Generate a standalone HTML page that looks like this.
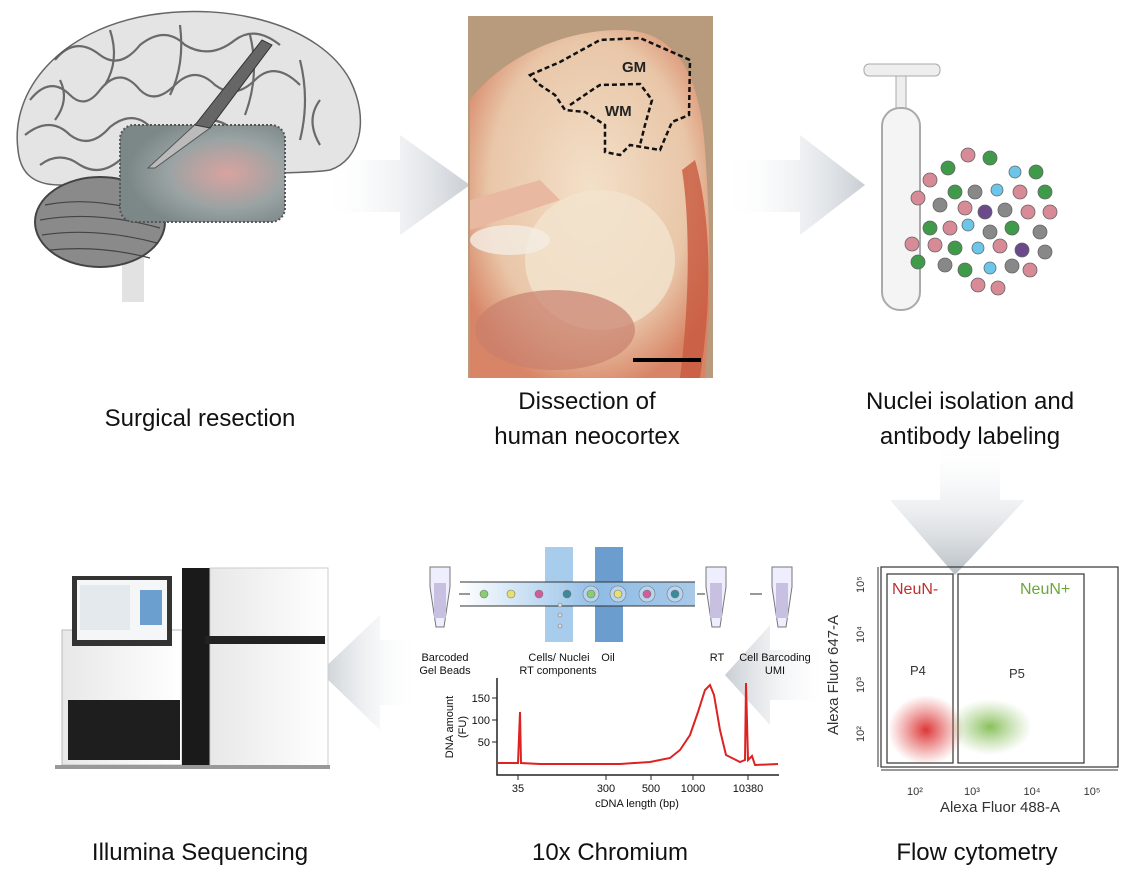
<!DOCTYPE html>
<html><head><meta charset="utf-8"><style>
body{margin:0;background:#fff;width:1130px;height:868px;overflow:hidden;font-family:"Liberation Sans",Arial,sans-serif}
</style></head><body>
<svg width="1130" height="868" viewBox="0 0 1130 868" xmlns="http://www.w3.org/2000/svg" font-family="Liberation Sans, Arial, sans-serif">
<defs>
<linearGradient id="arr" x1="0" x2="1"><stop offset="0" stop-color="#fff" stop-opacity="0"/><stop offset="1" stop-color="#c8ced4"/></linearGradient>
<linearGradient id="arrL" x1="1" x2="0"><stop offset="0" stop-color="#fff" stop-opacity="0"/><stop offset="1" stop-color="#c8ced4"/></linearGradient>
<linearGradient id="arrD" x1="0" y1="0" x2="0" y2="1"><stop offset="0" stop-color="#fff" stop-opacity="0"/><stop offset="1" stop-color="#b8bfc6"/></linearGradient>
<radialGradient id="tis" cx="0.5" cy="0.45" r="0.6"><stop offset="0" stop-color="#f3e0c8"/><stop offset="0.7" stop-color="#e9c6a8"/><stop offset="1" stop-color="#d88466"/></radialGradient>
<radialGradient id="pink" cx="0.65" cy="0.5" r="0.6"><stop offset="0" stop-color="#d9a3a0"/><stop offset="0.6" stop-color="#9aa3a3"/><stop offset="1" stop-color="#7c8888"/></radialGradient>
<linearGradient id="chan" x1="0" x2="1"><stop offset="0" stop-color="#fff"/><stop offset="0.6" stop-color="#8fbde6"/><stop offset="1" stop-color="#a9c9e8"/></linearGradient>
<radialGradient id="rc"><stop offset="0" stop-color="#d92020" stop-opacity="0.9"/><stop offset="1" stop-color="#e04040" stop-opacity="0"/></radialGradient>
<radialGradient id="gc"><stop offset="0" stop-color="#6bb033" stop-opacity="0.8"/><stop offset="1" stop-color="#8cc060" stop-opacity="0"/></radialGradient>
<linearGradient id="seq" x1="0" x2="1"><stop offset="0" stop-color="#e8e8e8"/><stop offset="1" stop-color="#ffffff"/></linearGradient>
</defs>

<!-- arrows -->
<polygon points="320,160 400,160 400,135 470,185 400,235 400,212 320,212" fill="url(#arr)"/>
<polygon points="722,160 800,160 800,135 865,185 800,235 800,212 722,212" fill="url(#arr)"/>
<polygon points="940,440 1000,440 1000,500 1025,500 955,575 890,500 940,500" fill="url(#arrD)"/>
<polygon points="830,650 770,650 770,625 725,675 770,725 770,700 830,700" fill="url(#arrL)"/>
<polygon points="420,640 380,640 380,615 320,672 380,730 380,705 420,705" fill="url(#arrL)"/>

<!-- brain -->
<g>
<rect x="122" y="220" width="22" height="82" fill="#e2e2e2"/>
<path d="M18,150 C10,90 60,30 150,15 C230,2 320,25 350,80 C370,120 360,160 330,170 C300,175 250,170 200,180 C150,190 120,185 60,185 C30,185 20,170 18,150 Z" fill="#e4e4e4" stroke="#666" stroke-width="1.5"/>
<g stroke="#555" stroke-width="2.2" fill="none" opacity="0.85">
<path d="M30,100 q20,-25 40,-5 q15,15 30,-5 q20,-25 40,0 q15,15 35,-5 q20,-20 40,0 q20,15 40,-5 q20,-20 45,5"/>
<path d="M25,135 q25,-20 45,0 q20,15 40,-8 q25,-20 45,5 q20,15 40,-5 q20,-15 40,5"/>
<path d="M55,60 q20,-25 45,-5 q20,15 40,-10 q25,-20 45,0 q25,15 50,-5 q20,-15 45,5"/>
<path d="M40,165 q20,-15 40,0 q20,12 40,-5"/>
<path d="M110,30 q10,30 -5,55"/><path d="M180,25 q5,40 -10,70"/><path d="M250,35 q10,40 -5,80"/><path d="M300,60 q10,40 0,80"/>
<path d="M60,80 q10,20 -5,40"/><path d="M320,100 q-15,20 0,45"/>
</g>
<ellipse cx="100" cy="222" rx="65" ry="45" fill="#8a8a8a" stroke="#444" stroke-width="2"/>
<g stroke="#444" stroke-width="1.2" fill="none">
<path d="M45,205 q50,-10 110,10"/><path d="M40,220 q55,-10 120,8"/><path d="M42,235 q55,-8 115,8"/><path d="M50,250 q50,-5 100,8"/>
</g>
<rect x="120" y="125" width="165" height="97" rx="14" fill="url(#pink)" stroke="#555" stroke-width="2" stroke-dasharray="2,2"/>
<polygon points="148,168 200,120 210,128 155,168" fill="#bbb" stroke="#555"/>
<polygon points="195,125 262,40 272,45 210,128" fill="#666" stroke="#333"/>
</g>

<!-- tissue photo -->
<rect x="468" y="16" width="245" height="362" fill="#b89b7d"/>
<path d="M470,100 C500,60 560,30 620,30 C680,30 700,80 705,150 C710,220 712,300 705,378 L470,378 Z" fill="url(#tis)"/>
<path d="M470,200 L540,180 L560,200 L470,230 Z" fill="#e9b8a0"/>
<ellipse cx="600" cy="260" rx="75" ry="70" fill="#f2e4ce" opacity="0.8"/>
<ellipse cx="555" cy="330" rx="80" ry="40" fill="#c9806e" opacity="0.7"/>
<ellipse cx="510" cy="240" rx="40" ry="15" fill="#f4ece4" opacity="0.8"/>
<path d="M695,160 C712,220 712,300 700,378 L680,378 C690,300 690,220 682,170 Z" fill="#c85a40" opacity="0.8"/>
<path d="M530,75 L560,62 L600,40 L640,38 L690,60 L689,115 L672,122 L660,150 L630,145 L620,155 L605,152 L605,125 L585,112 L565,110 L555,95 L540,85 Z" fill="none" stroke="#111" stroke-width="2.5" stroke-dasharray="5,3"/>
<path d="M570,105 L595,88 L600,85 L640,84 L652,100 L645,125 L640,145" fill="none" stroke="#111" stroke-width="2.5" stroke-dasharray="5,3"/>
<text x="622" y="72" font-size="15" font-weight="bold" fill="#222">GM</text>
<text x="605" y="116" font-size="15" font-weight="bold" fill="#222">WM</text>
<rect x="633" y="358" width="68" height="4" fill="#000"/>

<!-- column -->
<rect x="864" y="64" width="76" height="12" rx="5" fill="#eee" stroke="#aaa"/>
<rect x="896" y="76" width="10" height="40" fill="#eee" stroke="#aaa"/>
<rect x="882" y="108" width="38" height="202" rx="18" fill="#f4f4f4" stroke="#aaa" stroke-width="2"/>
<g stroke="#666" stroke-width="0.8">
<circle cx="968" cy="155" r="7" fill="#d88a96"/><circle cx="990" cy="158" r="7" fill="#3f9a4a"/><circle cx="948" cy="168" r="7" fill="#3f9a4a"/><circle cx="1015" cy="172" r="6" fill="#6cc6ea"/><circle cx="1036" cy="172" r="7" fill="#3f9a4a"/><circle cx="930" cy="180" r="7" fill="#d88a96"/><circle cx="955" cy="192" r="7" fill="#3f9a4a"/><circle cx="975" cy="192" r="7" fill="#888"/><circle cx="997" cy="190" r="6" fill="#6cc6ea"/><circle cx="1020" cy="192" r="7" fill="#d88a96"/><circle cx="1045" cy="192" r="7" fill="#3f9a4a"/><circle cx="918" cy="198" r="7" fill="#d88a96"/><circle cx="940" cy="205" r="7" fill="#888"/><circle cx="965" cy="208" r="7" fill="#d88a96"/><circle cx="985" cy="212" r="7" fill="#6a4a8a"/><circle cx="1005" cy="210" r="7" fill="#888"/><circle cx="1028" cy="212" r="7" fill="#d88a96"/><circle cx="1050" cy="212" r="7" fill="#d88a96"/><circle cx="930" cy="228" r="7" fill="#3f9a4a"/><circle cx="950" cy="228" r="7" fill="#d88a96"/><circle cx="968" cy="225" r="6" fill="#6cc6ea"/><circle cx="990" cy="232" r="7" fill="#888"/><circle cx="1012" cy="228" r="7" fill="#3f9a4a"/><circle cx="1040" cy="232" r="7" fill="#888"/><circle cx="912" cy="244" r="7" fill="#d88a96"/><circle cx="935" cy="245" r="7" fill="#d88a96"/><circle cx="955" cy="248" r="7" fill="#3f9a4a"/><circle cx="978" cy="248" r="6" fill="#6cc6ea"/><circle cx="1000" cy="246" r="7" fill="#d88a96"/><circle cx="1022" cy="250" r="7" fill="#6a4a8a"/><circle cx="1045" cy="252" r="7" fill="#888"/><circle cx="918" cy="262" r="7" fill="#3f9a4a"/><circle cx="945" cy="265" r="7" fill="#888"/><circle cx="965" cy="270" r="7" fill="#3f9a4a"/><circle cx="990" cy="268" r="6" fill="#6cc6ea"/><circle cx="1012" cy="266" r="7" fill="#888"/><circle cx="1030" cy="270" r="7" fill="#d88a96"/><circle cx="978" cy="285" r="7" fill="#d88a96"/><circle cx="998" cy="288" r="7" fill="#d88a96"/>
</g>

<!-- labels -->
<g font-size="24" fill="#111" text-anchor="middle">
<text x="200" y="426">Surgical resection</text>
<text x="587" y="409">Dissection of</text>
<text x="587" y="444">human neocortex</text>
<text x="970" y="409">Nuclei isolation and</text>
<text x="970" y="444">antibody labeling</text>
<text x="200" y="860">Illumina Sequencing</text>
<text x="610" y="860">10x Chromium</text>
<text x="977" y="860">Flow cytometry</text>
</g>

<!-- sequencer -->
<rect x="62" y="630" width="120" height="135" fill="url(#seq)" stroke="#bbb"/>
<rect x="68" y="700" width="112" height="60" fill="#1e1e1e"/>
<rect x="72" y="576" width="100" height="70" fill="#333"/>
<rect x="77" y="580" width="90" height="60" fill="#f4f6f8"/>
<rect x="80" y="585" width="50" height="45" fill="#e4e9ee"/><rect x="140" y="590" width="22" height="35" fill="#6a9fd0"/>
<rect x="182" y="568" width="28" height="200" fill="#1a1a1a"/>
<rect x="210" y="568" width="118" height="200" fill="url(#seq)" stroke="#ccc"/>
<rect x="205" y="636" width="120" height="8" fill="#222"/>
<rect x="55" y="765" width="275" height="4" fill="#999"/>

<!-- microfluidics -->
<rect x="545" y="547" width="28" height="95" fill="#a8cceb"/>
<rect x="595" y="547" width="28" height="95" fill="#6c9dcf"/>
<rect x="460" y="582" width="235" height="24" fill="url(#chan)"/>
<line x1="460" y1="582" x2="695" y2="582" stroke="#333"/><line x1="460" y1="606" x2="695" y2="606" stroke="#333"/>
<g stroke="#777" stroke-width="0.6">
<circle cx="484" cy="594" r="4" fill="#8ccc70"/><circle cx="511" cy="594" r="4" fill="#e6e070"/><circle cx="539" cy="594" r="4" fill="#d05c9c"/><circle cx="567" cy="594" r="4" fill="#3a8a9a"/>
<circle cx="591" cy="594" r="8" fill="#b8d4ee"/><circle cx="591" cy="594" r="4" fill="#8ccc70"/>
<circle cx="618" cy="594" r="8" fill="#b8d4ee"/><circle cx="618" cy="594" r="4" fill="#e6e070"/>
<circle cx="647" cy="594" r="8" fill="#b8d4ee"/><circle cx="647" cy="594" r="4" fill="#d05c9c"/>
<circle cx="675" cy="594" r="8" fill="#b8d4ee"/><circle cx="675" cy="594" r="4" fill="#3a8a9a"/>
<circle cx="560" cy="605" r="2" fill="#ddd"/><circle cx="560" cy="615" r="2" fill="#ddd"/><circle cx="560" cy="626" r="2" fill="#ddd"/>
</g>
<g fill="#eef" stroke="#777">
<path d="M430,567 h20 v20 l-6,40 h-8 l-6,-40z"/><path d="M706,567 h20 v20 l-6,40 h-8 l-6,-40z"/><path d="M772,567 h20 v20 l-6,40 h-8 l-6,-40z"/>
</g>
<g fill="#c8c0e0"><rect x="434" y="583" width="12" height="35"/><rect x="710" y="583" width="12" height="35"/><rect x="776" y="583" width="12" height="35"/></g>
<g stroke="#333" stroke-width="1"><line x1="459" y1="594" x2="470" y2="594"/><line x1="697" y1="594" x2="705" y2="594"/><line x1="750" y1="594" x2="762" y2="594"/></g>
<g font-size="11" fill="#111" text-anchor="middle">
<text x="445" y="661">Barcoded</text><text x="445" y="674">Gel Beads</text>
<text x="559" y="661">Cells/ Nuclei</text><text x="558" y="674">RT components</text>
<text x="608" y="661">Oil</text><text x="717" y="661">RT</text>
<text x="775" y="661">Cell Barcoding</text><text x="775" y="674">UMI</text>
</g>

<!-- chart -->
<polyline points="497,678 497,775 779,775" fill="none" stroke="#222" stroke-width="1.5"/>
<g stroke="#222"><line x1="492" y1="698" x2="497" y2="698"/><line x1="492" y1="720" x2="497" y2="720"/><line x1="492" y1="742" x2="497" y2="742"/>
<line x1="518" y1="775" x2="518" y2="780"/><line x1="606" y1="775" x2="606" y2="780"/><line x1="651" y1="775" x2="651" y2="780"/><line x1="693" y1="775" x2="693" y2="780"/><line x1="748" y1="775" x2="748" y2="780"/></g>
<g font-size="11" fill="#111" text-anchor="end"><text x="490" y="702">150</text><text x="490" y="724">100</text><text x="490" y="746">50</text></g>
<g font-size="11" fill="#111" text-anchor="middle"><text x="518" y="792">35</text><text x="606" y="792">300</text><text x="651" y="792">500</text><text x="693" y="792">1000</text><text x="748" y="792">10380</text>
<text x="637" y="807">cDNA length (bp)</text></g>
<text transform="translate(453,727) rotate(-90)" font-size="11" text-anchor="middle" fill="#111">DNA amount</text>
<text transform="translate(466,727) rotate(-90)" font-size="11" text-anchor="middle" fill="#111">(FU)</text>
<polyline points="498,763 518,763 520,712 521,763 540,764 620,764 650,762 670,758 680,750 690,735 698,712 705,690 710,685 714,695 720,730 726,755 740,762 745,760 746,683 748,760 752,756 755,765 778,764" fill="none" stroke="#d22" stroke-width="2"/>

<!-- flow -->
<rect x="881" y="567" width="237" height="200" fill="none" stroke="#333" stroke-width="1.2"/>
<rect x="887" y="574" width="66" height="189" fill="none" stroke="#333" stroke-width="1.2"/>
<rect x="958" y="574" width="126" height="189" fill="none" stroke="#333" stroke-width="1.2"/>
<ellipse cx="926" cy="730" rx="38" ry="35" fill="url(#rc)"/>
<ellipse cx="990" cy="727" rx="42" ry="28" fill="url(#gc)"/>
<text x="892" y="594" font-size="16" fill="#c03030">NeuN-</text>
<text x="1020" y="594" font-size="16" fill="#6aa83a">NeuN+</text>
<text x="910" y="675" font-size="13" fill="#333">P4</text>
<text x="1009" y="678" font-size="13" fill="#333">P5</text>
<g font-size="11" fill="#333" text-anchor="middle"><text x="915" y="795">10²</text><text x="972" y="795">10³</text><text x="1032" y="795">10⁴</text><text x="1092" y="795">10⁵</text>
<text x="1000" y="812" font-size="15">Alexa Fluor 488-A</text></g>
<text transform="translate(838,675) rotate(-90)" font-size="15" fill="#333" text-anchor="middle">Alexa Fluor 647-A</text>
<g font-size="11" fill="#333"><text transform="translate(864,742) rotate(-90)">10²</text><text transform="translate(864,693) rotate(-90)">10³</text><text transform="translate(864,643) rotate(-90)">10⁴</text><text transform="translate(864,593) rotate(-90)">10⁵</text></g>
<line x1="881" y1="770" x2="1118" y2="770" stroke="#333"/>
<line x1="878" y1="567" x2="878" y2="767" stroke="#333"/>
</svg>
</body></html>
